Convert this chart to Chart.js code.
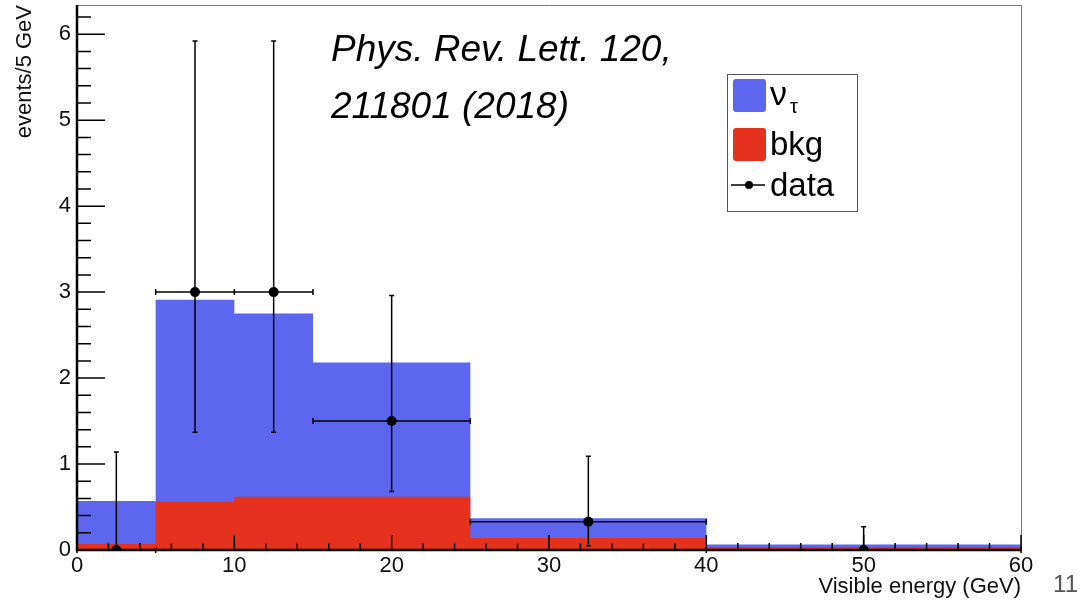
<!DOCTYPE html>
<html>
<head>
<meta charset="utf-8">
<script src="https://cdn.jsdelivr.net/npm/chart.js@4.4.1/dist/chart.umd.min.js"></script>
<style>
  html, body { margin: 0; padding: 0; background: #fff; }
  #wrap { width: 1086px; height: 600px; }
</style>
</head>
<body>
<div id="wrap"><canvas id="energyChart" width="1086" height="600"></canvas></div>
<script>
// bin edges (GeV) and stacked histogram contents, events / 5 GeV
const binEdges = [0, 5, 10, 15, 25, 40, 60];
const bkgValues = [0.07, 0.56, 0.62, 0.62, 0.14, 0.035];
const nuTauValues = [0.50, 2.35, 2.13, 1.56, 0.23, 0.03];

// observed data with asymmetric errors
const dataX = [2.5, 7.5, 12.5, 20, 32.5, 50];
const dataY = [0, 3, 3, 1.5, 0.33, 0];
const dataYLow = [0, 1.37, 1.37, 0.68, 0.05, 0];
const dataYHigh = [1.14, 5.92, 5.92, 2.96, 1.09, 0.27];
const dataXLow = [0, 5, 10, 15, 25, 40];
const dataXHigh = [5, 10, 15, 25, 40, 60];

const xTicks = [0, 10, 20, 30, 40, 50, 60];
const yTicks = [0, 1, 2, 3, 4, 5, 6];

const BLUE = '#5d66ee';
const RED = '#e5321f';
const FONT = "'Liberation Sans', Arial, Helvetica, sans-serif";

function stepPoints(values) {
    const pts = values.map((v, i) => ({ x: binEdges[i], y: v }));
    pts.push({ x: binEdges[binEdges.length - 1], y: values[values.length - 1] });
    return pts;
}

const totalValues = nuTauValues.map((v, i) => v + bkgValues[i]);

// axis frame with ROOT style inner ticks, plus error bars
function drawFrame(chart) {
    const ctx = chart.ctx;
    const { left, right, top, bottom } = chart.chartArea;
    const xs = chart.scales.x, ys = chart.scales.y;
    ctx.save();
    ctx.strokeStyle = '#777';
    ctx.lineWidth = 1;
    ctx.beginPath();
    ctx.moveTo(left, top + 0.5);
    ctx.lineTo(right + 0.5, top + 0.5);
    ctx.lineTo(right + 0.5, bottom);
    ctx.stroke();

    ctx.strokeStyle = '#000';
    ctx.lineWidth = 1.5;
    ctx.beginPath();
    for (let k = 0; k * 0.2 <= ys.max; k++) {
        const y = ys.getPixelForValue(k * 0.2);
        const len = k % 5 === 0 ? 28 : 14;
        ctx.moveTo(left, y);
        ctx.lineTo(left + len, y);
    }
    for (let k = 0; k * 2 <= xs.max; k++) {
        const x = xs.getPixelForValue(k * 2);
        const len = k % 5 === 0 ? 15 : 7;
        ctx.moveTo(x, bottom);
        ctx.lineTo(x, bottom - len);
    }
    ctx.stroke();

    ctx.lineWidth = 2.5;
    ctx.beginPath();
    ctx.moveTo(left, top);
    ctx.lineTo(left, bottom);
    ctx.lineTo(right + 1, bottom);
    ctx.stroke();

    // error bars
    ctx.lineWidth = 1.5;
    ctx.beginPath();
    dataX.forEach((xv, i) => {
        const x = xs.getPixelForValue(xv);
        const y = ys.getPixelForValue(dataY[i]);
        const yLo = ys.getPixelForValue(dataYLow[i]);
        const yHi = ys.getPixelForValue(dataYHigh[i]);
        const xLo = xs.getPixelForValue(dataXLow[i]);
        const xHi = xs.getPixelForValue(dataXHigh[i]);
        ctx.moveTo(x, yLo); ctx.lineTo(x, yHi);
        ctx.moveTo(x - 2.5, yHi); ctx.lineTo(x + 2.5, yHi);
        if (dataYLow[i] > 0) { ctx.moveTo(x - 2.5, yLo); ctx.lineTo(x + 2.5, yLo); }
        ctx.moveTo(xLo, y); ctx.lineTo(xHi, y);
        ctx.moveTo(xLo, y - 3); ctx.lineTo(xLo, y + 3);
        ctx.moveTo(xHi, y - 3); ctx.lineTo(xHi, y + 3);
    });
    ctx.stroke();
    ctx.restore();
}

const rootStyle = {
    id: 'rootStyle',
    afterDatasetDraw(chart, args) {
        if (chart.data.datasets[args.index].label === 'bkg') {
            drawFrame(chart);
        }
    },
    afterDraw(chart) {
        const ctx = chart.ctx;
        const ds = chart.data.datasets;
        ctx.save();

        // legend box
        ctx.fillStyle = '#fff';
        ctx.fillRect(727, 74, 130, 137);
        ctx.strokeStyle = '#555';
        ctx.lineWidth = 1;
        ctx.strokeRect(727.5, 74.5, 130, 137);

        ctx.fillStyle = ds[0].backgroundColor;
        ctx.beginPath(); ctx.roundRect(733, 79, 33, 33, 3); ctx.fill();
        ctx.fillStyle = ds[1].backgroundColor;
        ctx.beginPath(); ctx.roundRect(733, 128, 33, 33, 3); ctx.fill();
        ctx.strokeStyle = '#000';
        ctx.lineWidth = 1.5;
        ctx.beginPath(); ctx.moveTo(731, 185); ctx.lineTo(765, 185); ctx.stroke();
        ctx.fillStyle = '#000';
        ctx.beginPath(); ctx.arc(749, 185, 4, 0, Math.PI * 2); ctx.fill();

        ctx.textAlign = 'left';
        ctx.textBaseline = 'alphabetic';
        ctx.font = '34px ' + FONT;
        ctx.fillText(ds[0].label.charAt(0), 770, 105);
        ctx.font = '20px ' + FONT;
        ctx.fillText(ds[0].label.charAt(1), 790, 113);
        ctx.font = '33px ' + FONT;
        ctx.fillText(ds[1].label, 770, 155);
        ctx.fillText(ds[2].label, 770, 196);

        // reference note
        ctx.font = 'italic 37px ' + FONT;
        ctx.fillText('Phys. Rev. Lett. 120,', 331, 61);
        ctx.fillText('211801 (2018)', 331, 118);

        // slide number
        ctx.fillStyle = '#555';
        ctx.font = '24px ' + FONT;
        ctx.textAlign = 'right';
        ctx.fillText('11', 1078, 592);
        ctx.restore();
    }
};

const ctx = document.getElementById('energyChart').getContext('2d');
new Chart(ctx, {
    type: 'scatter',
    data: {
        datasets: [{
            type: 'line',
            label: 'ντ',
            data: stepPoints(totalValues),
            stepped: true,
            fill: 'origin',
            backgroundColor: BLUE,
            borderColor: 'transparent',
            borderWidth: 0,
            pointRadius: 0,
            order: 3
        }, {
            type: 'line',
            label: 'bkg',
            data: stepPoints(bkgValues),
            stepped: true,
            fill: 'origin',
            backgroundColor: RED,
            borderColor: 'transparent',
            borderWidth: 0,
            pointRadius: 0,
            order: 2
        }, {
            type: 'scatter',
            label: 'data',
            data: dataX.map((x, i) => ({ x: x, y: dataY[i] })),
            backgroundColor: '#000',
            borderWidth: 0,
            pointRadius: 5,
            order: 1
        }]
    },
    options: {
        responsive: false,
        animation: false,
        layout: { padding: { top: 5, right: 65, left: 0, bottom: 0 } },
        plugins: {
            legend: { display: false },
            tooltip: { enabled: false }
        },
        scales: {
            x: {
                type: 'linear',
                min: 0,
                max: 60,
                afterBuildTicks: (scale) => { scale.ticks = xTicks.map(v => ({ value: v })); },
                afterFit: (scale) => { scale.height = 50; scale.paddingLeft = 0; scale.paddingRight = 0; },
                grid: { display: false, drawTicks: false },
                border: { display: false },
                ticks: { color: '#111', font: { size: 22, family: FONT }, padding: 3, maxRotation: 0 },
                title: {
                    display: true,
                    text: 'Visible energy (GeV)',
                    align: 'end',
                    color: '#111',
                    font: { size: 22, family: FONT },
                    padding: { top: 0, bottom: 0 }
                }
            },
            y: {
                min: 0,
                max: 6.34,
                afterBuildTicks: (scale) => { scale.ticks = yTicks.map(v => ({ value: v })); },
                afterFit: (scale) => { scale.width = 77; scale.paddingTop = 0; scale.paddingBottom = 0; },
                grid: { display: false, drawTicks: false },
                border: { display: false },
                ticks: { color: '#111', font: { size: 22, family: FONT }, padding: 6 },
                title: {
                    display: true,
                    text: 'events/5 GeV',
                    align: 'end',
                    color: '#111',
                    font: { size: 22, family: FONT },
                    padding: { top: 12, bottom: 0 }
                }
            }
        }
    },
    plugins: [rootStyle]
});
</script>
</body>
</html>
